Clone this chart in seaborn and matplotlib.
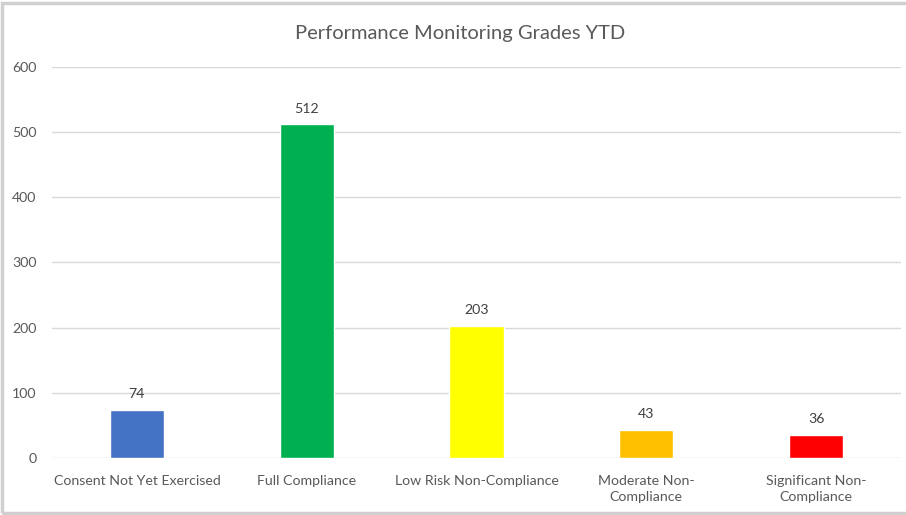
import matplotlib.pyplot as plt
import seaborn as sns
import pandas as pd

# ── Data ─────────────────────────────────────────────────────────────
categories = [
    "Consent Not Yet Exercised",
    "Full Compliance",
    "Low Risk Non-Compliance",
    "Moderate Non-\nCompliance",
    "Significant Non-\nCompliance",
]
counts = [74, 512, 203, 43, 36]
colors = ["#4472C4", "#00B050", "#FFFF00", "#FFC000", "#FF0000"]
yticks = [0, 100, 200, 300, 400, 500, 600]

df = pd.DataFrame({"grade": categories, "count": counts})

sns.set_theme(style="white")
plt.rcParams["font.family"] = ["Lato", "DejaVu Sans"]

fig = plt.figure(figsize=(9.06, 5.15), dpi=100)
fig.patch.set_facecolor("white")
ax = fig.add_axes([0.0574, 0.1107, 0.937, 0.7592])

sns.barplot(data=df, x="grade", y="count", hue="grade", palette=colors,
            width=0.32, legend=False, saturation=1, ax=ax)

ax.set_ylim(0, 600)
ax.set_yticks(yticks)
ax.yaxis.grid(True, color="#D9D9D9", linewidth=1)
ax.set_axisbelow(True)
for s in ax.spines.values():
    s.set_visible(False)
ax.set_xlabel("")
ax.set_ylabel("")
ax.tick_params(axis="both", length=0, colors="#595959", labelsize=10.2)
ax.tick_params(axis="x", pad=12)
ax.tick_params(axis="y", pad=11)
for lbl in ax.get_xticklabels():
    lbl.set_linespacing(1.45)

for c in ax.containers:
    ax.bar_label(c, padding=7, fontsize=10.2, color="#404040")

fig.text(0.508, 0.935, "Performance Monitoring Grades YTD",
         ha="center", va="center", fontsize=14.5, color="#595959")

# outer chart border
fig.add_artist(plt.Rectangle((0.002, 0.004), 1.2, 0.99, transform=fig.transFigure,
                             fill=False, edgecolor="#D0D0D0", linewidth=2.5))

fig.savefig("out.png", dpi=100, facecolor="white")
